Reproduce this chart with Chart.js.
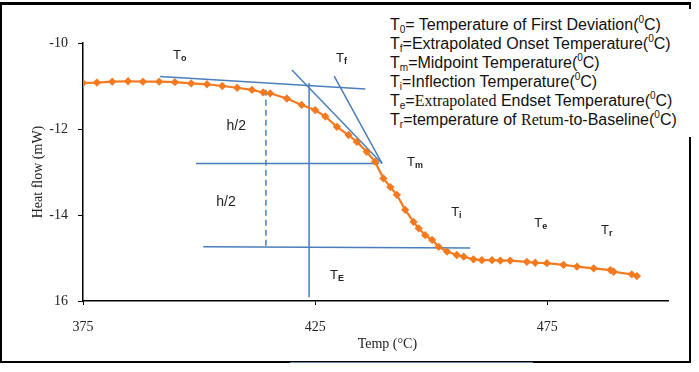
<!DOCTYPE html>
<html>
<head>
<meta charset="utf-8">
<script src="https://cdn.jsdelivr.net/npm/chart.js@4.4.1/dist/chart.umd.min.js"></script>
<style>
  body { margin: 0; background: #fff; }
  #wrap { position: relative; width: 699px; height: 372px; }
  #frame { position: absolute; left: 0; top: 2px; width: 687px; height: 356px; border: 2px solid #000; border-top-width: 3px; pointer-events: none; }
  #key { position: absolute; left: 386px; top: 9px; width: 307px; height: 128px; background: #fff;
         font-family: "Liberation Sans", Arial, sans-serif; font-size: 16px; line-height: 19px; color: #111; padding-left: 4px; padding-top: 6px; box-sizing: border-box; }
  #key sub { font-size: 10px; vertical-align: -3px; line-height: 0; }
  #key sup { font-size: 10px; vertical-align: 7px; line-height: 0; }
  .serif { font-family: "Liberation Serif", "Times New Roman", serif; }
  #under { position: absolute; left: 290px; top: 362px; width: 243px; height: 1px; background: #6a86ad; }
</style>
</head>
<body>
<div id="wrap">
  <canvas id="dsc-chart" width="699" height="372"></canvas>
  <div id="frame"></div>
  <div id="key">
    <div>T<sub>0</sub>= Temperature of First Deviation(<sup>0</sup>C)</div>
    <div>T<sub>f</sub>=Extrapolated Onset Temperature(<sup>0</sup>C)</div>
    <div>T<sub>m</sub>=Midpoint Temperature(<sup>0</sup>C)</div>
    <div>T<sub>i</sub>=Inflection Temperature(<sup>0</sup>C)</div>
    <div>T<sub>e</sub>=<span class="serif">Extrapolated</span> Endset Temperature(<sup>0</sup>C)</div>
    <div>T<sub>r</sub>=temperature of <span class="serif">Retum</span>-to-Baseline(<sup>0</sup>C)</div>
  </div>
  <div id="under"></div>
</div>
<script>
// DSC curve
const temps = [375, 378, 381.3, 384.7, 387.9, 391.4, 394.8, 398.3, 401.7, 405, 408.2, 411.4, 413.8,
  415.3, 418.9, 422.1, 425, 427.2, 429.7, 432.2, 434, 436.1, 437.9, 439.7, 441.2, 442.6, 444.4,
  446.2, 447.3, 448.7, 450.2, 451.6, 453.4, 455.5, 457, 459.1, 460.9, 463.1, 464.9, 467, 470.6,
  472.4, 474.9, 478.5, 481.4, 485, 488.6, 489.3, 493.2, 494.3];
const heatFlow = [-10.93, -10.92, -10.9, -10.89, -10.9, -10.9, -10.91, -10.94, -10.96, -11, -11.04, -11.09, -11.15,
  -11.17, -11.29, -11.44, -11.56, -11.71, -11.95, -12.14, -12.3, -12.53, -12.76, -13.15, -13.35, -13.53, -13.88,
  -14.16, -14.31, -14.47, -14.58, -14.74, -14.85, -14.93, -14.97, -15.03, -15.05, -15.05, -15.06, -15.06, -15.09,
  -15.11, -15.12, -15.16, -15.2, -15.24, -15.28, -15.32, -15.38, -15.42];

// axis ticks
const xTicks = [375, 425, 475];
const yTicks = [-16, -14, -12, -10];
const yTickLabels = ["16", "-14", "-12", "-10"];

// construction lines (temp, heat flow)
const baselineX = [391.6, 435.8];
const baselineY = [-10.78, -11.07];
const tangentAX = [420.0, 439.4];
const tangentAY = [-10.63, -12.8];
const tangentBX = [429.1, 439.4];
const tangentBY = [-10.77, -12.8];
const onsetX = [423.7, 423.7];
const onsetY = [-10.93, -15.91];
const midX = [399.35, 438.8];
const midY = [-12.8, -12.8];
const lowX = [400.9, 458.4];
const lowY = [-14.74, -14.77];
const halfX = [414.4, 414.4];
const halfY = [-11.09, -14.72];

// annotation labels
const labelText = ["T", "T", "h/2", "h/2", "T", "T", "T", "T", "T"];
const labelSub = ["o", "f", "", "", "m", "i", "e", "r", "E"];
const labelX = [395.9, 431.0, 408.0, 405.8, 446.3, 455.8, 473.7, 488.1, 429.7];
const labelY = [-10.28, -10.35, -11.93, -13.7, -12.77, -13.95, -14.19, -14.35, -15.4];

const toPts = (xs, ys) => xs.map((x, i) => ({ x: x, y: ys[i] }));

const blue = "#4a7ebb";
function guide(xs, ys, dash) {
  return {
    data: toPts(xs, ys),
    showLine: true,
    borderColor: blue,
    borderWidth: 1.5,
    borderDash: dash || [],
    pointRadius: 0,
    order: 1,
  };
}

const labelPlugin = {
  id: "labels",
  afterDatasetsDraw(chart) {
    const ctx = chart.ctx;
    const xs = chart.scales.x;
    const ys = chart.scales.y;
    ctx.save();
    ctx.fillStyle = "#222";
    ctx.textBaseline = "middle";
    labelText.forEach((t, i) => {
      const px = xs.getPixelForValue(labelX[i]);
      const py = ys.getPixelForValue(labelY[i]);
      if (t === "T") {
        ctx.font = "13px 'Liberation Sans', Arial, sans-serif";
        const w = ctx.measureText(t).width;
        ctx.textAlign = "left";
        ctx.fillText(t, px - 7, py);
        ctx.font = "bold 9px 'Liberation Sans', Arial, sans-serif";
        ctx.fillText(labelSub[i], px - 7 + w, py + 3);
      } else {
        ctx.font = "14px 'Liberation Sans', Arial, sans-serif";
        ctx.textAlign = "center";
        ctx.fillText(t, px, py);
      }
    });
    ctx.restore();
  },
};

const serif = "'Liberation Serif', 'Times New Roman', serif";

new Chart(document.getElementById("dsc-chart"), {
  type: "scatter",
  data: {
    datasets: [
      {
        data: toPts(temps, heatFlow),
        showLine: true,
        borderColor: "#f47a20",
        backgroundColor: "#f47a20",
        borderWidth: 2.2,
        pointStyle: "rectRot",
        pointRadius: 2.6,
        order: 0,
      },
      guide(baselineX, baselineY),
      guide(tangentAX, tangentAY),
      guide(tangentBX, tangentBY),
      guide(onsetX, onsetY),
      guide(midX, midY),
      guide(lowX, lowY),
      guide(halfX, halfY, [6, 4]),
    ],
  },
  options: {
    responsive: false,
    animation: false,
    layout: { padding: { top: 43, right: 31, left: 0, bottom: 0 } },
    plugins: { legend: { display: false }, tooltip: { enabled: false } },
    scales: {
      x: {
        type: "linear",
        min: 375,
        max: 501,
        afterBuildTicks: (scale) => { scale.ticks = xTicks.map((v) => ({ value: v })); },
        afterFit: (scale) => { scale.height = 71; },
        grid: { drawOnChartArea: false, color: "#000", tickLength: 4 },
        border: { color: "#000", width: 1.5 },
        ticks: { color: "#222", padding: 14, font: { family: serif, size: 14 } },
        title: { display: true, text: "\u2003\u2002\u2009Temp (°C)", color: "#222", font: { family: serif, size: 14 }, padding: { top: 0, bottom: 19 } },
      },
      y: {
        min: -16,
        max: -10,
        afterBuildTicks: (scale) => { scale.ticks = yTicks.map((v) => ({ value: v })); },
        afterFit: (scale) => { scale.width = 83; },
        grid: { drawOnChartArea: false, color: "#000", tickLength: 5 },
        border: { color: "#000", width: 1.5 },
        ticks: {
          color: "#222",
          padding: 10,
          font: { family: serif, size: 14 },
          callback: (v) => yTickLabels[yTicks.indexOf(v)],
        },
        title: { display: true, text: "Heat flow (mW)", color: "#222", font: { family: serif, size: 14 }, padding: { top: 30, bottom: 0 } },
      },
    },
  },
  plugins: [labelPlugin],
});
</script>
</body>
</html>
